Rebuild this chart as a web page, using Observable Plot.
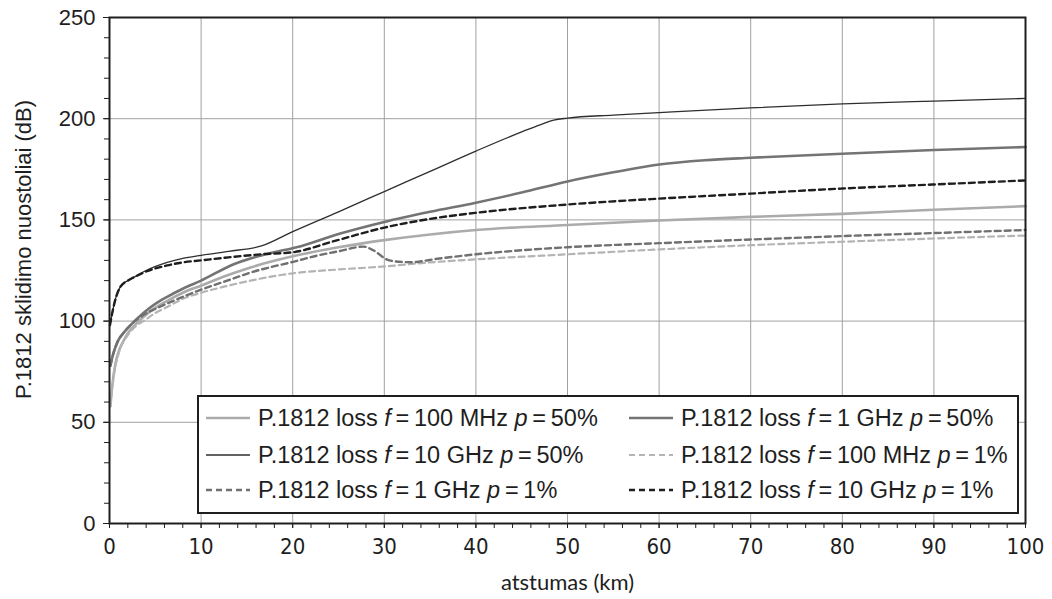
<!DOCTYPE html>
<html>
<head>
<meta charset="utf-8">
<script src="https://cdn.jsdelivr.net/npm/d3@7"></script>
<script src="https://cdn.jsdelivr.net/npm/@observablehq/plot@0.6"></script>
<style>
  html, body { margin: 0; padding: 0; background: #fff; }
  #wrap { position: relative; width: 1052px; height: 599px; overflow: hidden; }
  #legend {
    position: absolute; left: 197px; top: 395px; width: 818px; height: 115px;
    border: 2px solid #1e1e1e; background: #fff; box-sizing: content-box;
    font-family: "Liberation Sans", Arial, sans-serif; font-size: 23.5px; color: #1e1e1e;
  }
  .item { position: absolute; display: flex; align-items: center; white-space: nowrap; }
  .item svg { margin-right: 7px; }
  .item i { font-style: italic; }
</style>
</head>
<body>
<div id="wrap"><div id="chart"></div><div id="legend"></div></div>
<script>
// ---- data ----
const xTicks = [0, 10, 20, 30, 40, 50, 60, 70, 80, 90, 100];
const yTicks = [0, 50, 100, 150, 200, 250];

const names = [
  "100 MHz p=50%", "1 GHz p=50%", "10 GHz p=50%",
  "100 MHz p=1%", "1 GHz p=1%", "10 GHz p=1%"
];

const d100M50 = [0.1, 0.3, 0.65, 1, 1.5, 2, 3, 4.5, 6.3, 8, 10, 12.5, 15.4, 20, 25, 30, 35, 40, 50, 60, 70, 80, 90, 100];
const L100M50 = [58, 68, 79, 85, 90, 94, 99, 105, 110, 114, 117.5, 122, 126.5, 132, 136.5, 140, 142.8, 145, 147.5, 149.7, 151.5, 153, 155, 156.8];

const d1G50 = [0.1, 0.3, 0.9, 1.5, 2.3, 3.7, 5, 6.3, 8, 10, 13.5, 17, 20.9, 25, 30, 35, 40, 45, 50, 55, 60, 65, 70, 80, 90, 100];
const L1G50 = [78, 82, 90, 94, 98, 104, 108.5, 112, 116, 120, 128, 133, 137, 143, 149, 154, 158.5, 163.5, 169, 173.5, 177.4, 179.5, 180.7, 182.7, 184.5, 186];

const d10G50 = [0.05, 0.3, 0.6, 1.2, 2, 2.6, 4, 6.3, 8, 10, 13, 16.5, 20, 25, 30, 35, 40, 45, 47, 48.5, 50, 55, 60, 70, 80, 90, 100];
const L10G50 = [98, 104, 110, 117, 120, 121.5, 125, 129, 131, 132.5, 134.5, 137, 144.2, 154, 164, 174, 184, 193.5, 197, 199.3, 200.3, 201.8, 203, 205.3, 207.3, 208.7, 210];

const d100M1 = [0.1, 0.5, 1, 2, 3, 3.7, 5, 6.3, 8, 10, 12.5, 15.4, 19.8, 25, 30, 35, 40, 50, 60, 70, 80, 90, 100];
const L100M1 = [58, 74, 84, 93, 98, 100, 104, 107, 111, 114, 117, 120, 123.5, 125.5, 127, 129, 130.5, 133, 135.4, 137.5, 139.2, 140.8, 142.3];

const d1G1 = [0.1, 0.3, 0.9, 1.5, 2.3, 3.7, 5, 6.3, 8, 10, 13.5, 15.4, 17.9, 19.8, 22.7, 25, 27.7, 28.8, 30.3, 31, 32.9, 35.8, 40, 50, 60, 70, 80, 90, 100];
const L1G1 = [78, 82, 90, 94, 98, 103, 106, 108.7, 112, 115.5, 121, 124, 127, 129, 132.4, 134.5, 136.8, 135, 130.4, 129.6, 129.1, 130.8, 133, 136.5, 138.5, 140.3, 142, 143.5, 145];

const d10G1 = [0.05, 0.3, 0.6, 1.2, 2, 2.6, 4, 6.3, 8, 10, 13, 16.5, 20, 24.5, 30, 35, 40, 50, 60, 70, 80, 90, 100];
const L10G1 = [98, 104, 110, 117, 120, 121.5, 124.5, 127.5, 129, 130, 131.5, 133, 134, 139.5, 146.2, 150.5, 153.5, 157.6, 160.5, 163, 165.5, 167.5, 169.5];

const xLabel = "atstumas (km)";
const yLabel = "P.1812 sklidimo nuostoliai (dB)";

// ---- styles (kept apart from data) ----
const styles = [
  {stroke: "#ababab", strokeWidth: 2.6, dash: null},
  {stroke: "#747474", strokeWidth: 2.6, dash: null},
  {stroke: "#2e2e2e", strokeWidth: 1.3, dash: null},
  {stroke: "#b4b4b4", strokeWidth: 2.2, dash: "6,4"},
  {stroke: "#707070", strokeWidth: 2.4, dash: "6,4"},
  {stroke: "#1e1e1e", strokeWidth: 2.4, dash: "6,4"}
];
const seriesX = [d100M50, d1G50, d10G50, d100M1, d1G1, d10G1];
const seriesY = [L100M50, L1G50, L10G50, L100M1, L1G1, L10G1];

const tables = seriesX.map((xs, i) => xs.map((x, j) => ({x, y: seriesY[i][j]})));

const lineMarks = tables.map((t, i) => Plot.line(t, {
  x: "x", y: "y", curve: "monotone-x",
  stroke: styles[i].stroke, strokeWidth: styles[i].strokeWidth,
  strokeDasharray: styles[i].dash || undefined
}));

const chart = Plot.plot({
  width: 1052, height: 599,
  marginLeft: 109, marginRight: 27, marginTop: 17, marginBottom: 76,
  style: {fontFamily: "Liberation Sans, Arial, sans-serif", color: "#1e1e1e", background: "#fff"},
  x: {domain: [0, 100]},
  y: {domain: [0, 250]},
  marks: [
    Plot.gridX(xTicks.slice(1), {stroke: "#a0a0a0", strokeOpacity: 1, strokeWidth: 1}),
    Plot.gridY(yTicks.slice(1), {stroke: "#a0a0a0", strokeOpacity: 1, strokeWidth: 1}),
    ...lineMarks,
    Plot.frame({stroke: "#1e1e1e", strokeWidth: 2}),
    Plot.axisX({ticks: d3.range(0, 101, 2), tickSize: 5, text: null, label: null, stroke: "#1e1e1e"}),
    Plot.axisX({ticks: xTicks, tickSize: 5, tickPadding: 10, label: xLabel, labelAnchor: "center", labelArrow: "none", labelOffset: 66,
      fontSize: 22, fontFamily: "Liberation Sans Narrow, DejaVu Sans Condensed, Arial, sans-serif", stroke: "#1e1e1e"}),
    Plot.axisY({ticks: d3.range(0, 251, 10), tickSize: 5, text: null, label: null, stroke: "#1e1e1e"}),
    Plot.axisY({ticks: yTicks, tickSize: 6, tickPadding: 8, label: null, fontSize: 22, stroke: "#1e1e1e"}),
    Plot.text([yLabel], {text: d => d, frameAnchor: "left", textAnchor: "middle", rotate: -90, dx: -86, dy: -21, fontSize: 22, fill: "#1e1e1e"})
  ]
});
document.getElementById("chart").appendChild(chart);

// x axis label font tweak
chart.querySelectorAll("text").forEach(t => {
  if (t.textContent === xLabel) { t.setAttribute("font-family", "Lato, sans-serif"); t.setAttribute("font-size", 22); }
});

// ---- legend ----
const legendPos = [
  {left: 6, top: 21}, {left: 429, top: 21},
  {left: 6, top: 58}, {left: 429, top: 58},
  {left: 6, top: 93}, {left: 429, top: 93}
];
const legend = document.getElementById("legend");
names.forEach((n, i) => {
  const [freq, unit, pPart] = n.split(" ");
  const pVal = pPart.split("=")[1];
  const s = styles[i];
  const div = document.createElement("div");
  div.className = "item";
  div.style.left = legendPos[i].left + "px";
  div.style.top = (legendPos[i].top - 14) + "px";
  div.style.height = "28px";
  div.innerHTML = `<svg width="46" height="10"><line x1="1" x2="45" y1="5" y2="5" stroke="${s.stroke}" stroke-width="${s.strokeWidth}" ${s.dash ? `stroke-dasharray="${s.dash}"` : ""}/></svg>` +
    `<span>P.1812 loss <i>f</i>\u2009=\u2009${freq} ${unit} <i>p</i>\u2009=\u2009${pVal}</span>`;
  legend.appendChild(div);
});
</script>
</body>
</html>
